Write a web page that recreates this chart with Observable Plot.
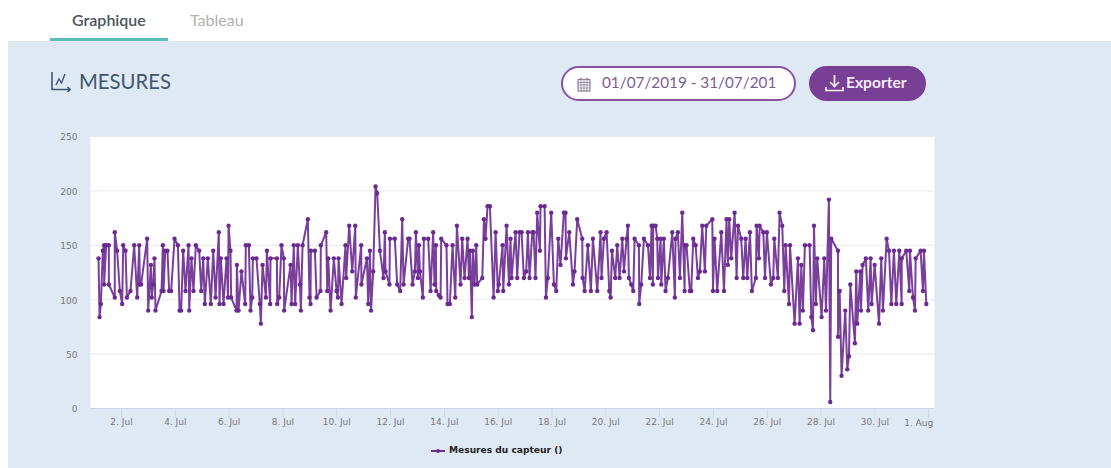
<!DOCTYPE html>
<html lang="fr">
<head>
<meta charset="utf-8">
<script src="https://cdn.jsdelivr.net/npm/d3@7"></script>
<script src="https://cdn.jsdelivr.net/npm/@observablehq/plot@0.6"></script>
<style>
html,body{margin:0;padding:0;background:#fff;width:1111px;height:468px;overflow:hidden;font-family:Lato,"Open Sans",sans-serif}
.abs{position:absolute;white-space:nowrap}
#panel{left:8px;top:41px;width:1103px;height:427px;background:#dfe9f4}
#tab1{left:72px;top:10px;font-size:16px;font-weight:600;color:#4a5560}
#tab2{left:190px;top:10px;font-size:16px;color:#b0b0b0}
#bar{left:50px;top:38px;width:118px;height:3px;background:#5cbdb6}
#title{left:79px;top:69px;font-size:20.3px;color:#41566e}
#pill{left:561px;top:66px;width:231px;height:31px;border:2px solid #8a52a3;border-radius:18px;background:#fff}
#range{left:602px;top:73px;font-size:15.3px;color:#7e5a95}
#btn{left:809px;top:66px;width:117px;height:35px;border-radius:18px;background:#793e95}
#exp{left:846px;top:73px;font-size:15.6px;font-weight:700;color:#f3edf6}
#chart{left:0;top:119.5px}
#swatch{left:431px;top:450px;width:14px;height:1.6px;background:#6b2d8e}
#dot{left:436px;top:449px;width:4px;height:4px;border-radius:50%;background:#6b2d8e}
#legend{left:449px;top:444px;font:bold 9.1px "DejaVu Sans",sans-serif;color:#222;line-height:13px}
</style>
</head>
<body>
<div class="abs" id="panel"></div>
<div class="abs" id="tab1">Graphique</div>
<div class="abs" id="tab2">Tableau</div>
<div class="abs" id="bar"></div>
<svg class="abs" style="left:50px;top:71px" width="21" height="21" viewBox="0 0 21 21" fill="none" stroke="#41566e" stroke-width="1.6">
  <path d="M2 1V18.5H20M17.5 16L20 18.5L17.5 21"/>
  <path d="M6 14L9 8L11.5 12L15 3" stroke-width="1.4"/>
</svg>
<div class="abs" id="title">MESURES</div>
<div class="abs" id="pill"></div>
<svg class="abs" style="left:577px;top:77px" width="14" height="15" viewBox="0 0 14 15" fill="none" stroke="#8b7a9a" stroke-width="1.2">
  <rect x="1" y="2.5" width="12" height="11.5"/>
  <path d="M1 5.5H13M1 8H13M1 11H13M4 3V14M7 3V14M10 3V14" stroke-width=".8"/>
  <path d="M4 .5V3M10 .5V3"/>
</svg>
<div class="abs" id="range">01/07/2019 - 31/07/201</div>
<div class="abs" id="btn"></div>
<svg class="abs" style="left:825px;top:74px" width="19" height="18" viewBox="0 0 19 18" fill="none" stroke="#f3edf6" stroke-width="1.7">
  <path d="M9.5 1V12M5 8L9.5 12.5L14 8M1 13V16.5H18V13"/>
</svg>
<div class="abs" id="exp">Exporter</div>
<div class="abs" id="chart"></div>
<div class="abs" id="swatch"></div>
<div class="abs" id="dot"></div>
<div class="abs" id="legend">Mesures du capteur ()</div>
<script>
// Hours since 1 July 2019 00:00, and the sensor reading at that time.
const hoursA = [3.5,4.4,5.6,7.3,8.5,8.5,10.3,12.7,12.7,18,
  18,20.1,22.5,24.6,25.5,27.6,28.8,32,35.3,38,
  39.8,40.4,41.5,46.9,47.8,50.2,51,52.2,53.4,54.3,
  59.7,60.9,61.5,63,65,66.5,68.3,71.3,74.3,75.8,
  77.2,79,81.1,83.8,84.4,86.4,88.2,90.3,93.3,95.1,
  96.9,98.3,101,103.7,105.8,107.9,110.8,111.4,112.6,115,
  117.7,119,119.5];
const valuesA = [138,84,96,145,150,114,150,150,114,102,
  162,145,108,96,150,145,102,108,150,102,
  150,114,114,156,90,132,102,114,138,90,
  108,150,108,145,145,108,108,156,150,90,
  90,145,108,150,90,138,108,150,145,108,
  138,96,138,96,145,102,162,96,138,96,
  138,102,168];
const hoursB = [121.2,121.8,126.6,126.9,128.4,131,134.3,134.9,137.6,139.1,
  140.6,141.2,144.4,147.4,148.3,149.8,152.8,153.7,156.6,156.9,
  162.6,162.9,164.7,166.7,168.8,169.1,174.8,175.7,177.7,178.9,
  181.3,183.1,184,185.5,190.2,191.7,192.6,192.9,196.5,198,
  201.5,201.8,206.6,207.5,208.4,210.5,213.4,215.8,217,217.6,
  220.3,223.8,224.4,227.1,229.8,232.5,233,237.8,238,242.9,
  244.1,245.6,246.6];
const valuesB = [145,102,90,132,90,126,96,150,150,90,
  102,138,138,96,78,132,102,145,96,138,
  138,96,102,150,138,90,132,96,150,96,
  150,114,90,150,174,102,96,145,145,102,
  108,150,162,108,138,90,138,108,102,138,
  96,150,120,168,126,168,102,150,114,138,
  96,145,90];
const hoursC = [248.5,250.6,252.1,254.5,257.7,258.9,259.5,263,263.4,267.8,
  269.9,272.6,274.4,275.6,279.7,280.9,283.6,285.7,286.6,288.4,
  289.3,290.2,292.8,293.7,297.6,299.7,302,303.2,304.4,304.7,
  307.1,308.6,309.2,313.9,314.8,316.9,319.3,321.7,323.2,326.4,
  327.9,330,332.7,333.9,334.8,336.5,337.4,338.9,340.4,341.3,
  345.8,347.3,348.7,350.5,352.6,355.9,357.7,359.7,360.6,363.9,
  364.5,367.5,369.6,371];
const valuesC = [126,204,198,145,120,162,126,114,156,156,
  114,108,174,114,156,156,114,126,162,120,
  150,126,102,156,156,108,162,114,150,108,
  104,102,156,150,96,96,150,102,168,114,
  156,120,156,120,145,84,145,114,150,114,
  120,174,156,186,186,102,162,108,114,150,
  108,168,114,156];
const hoursD = [371.9,375.5,377,379,380.9,382.9,385,386.5,388,390.4,
  391.6,393.3,394.8,397.2,397.8,401.4,402.6,404.3,407.3,409.7,
  411.8,413.6,415.6,418.6,420.1,420.4,423.4,426.7,428.1,430.5,
  435,435.3,437.1,440,442.7,444.5,448.4,451.3,452.2,454.3,
  456.7,459.1,460.3,461.5,464.4,466.2,468.3,470.7,472.2,474.5,
  475.7,476.6,478.7,480.5,481.7,485.5,485.8,487.6,490,493.6,
  495.4];
const valuesD = [120,162,120,162,162,120,126,162,120,162,
  162,120,180,145,186,186,102,120,180,114,
  108,156,132,180,180,138,162,114,126,174,
  156,120,108,150,108,156,108,162,120,156,
  162,108,102,145,120,150,120,156,126,156,
  168,120,114,108,156,150,96,114,156,150,
  120];
const hoursE = [496.8,498,498.3,500.4,501.9,502.5,504.9,505.5,507.8,509.3,
  511.4,515.3,517.6,518.2,520.3,522.1,524.2,526.3,526.5,528,
  531,532.2,534,536.1,538.2,539.9,542,544.4,545.6,551,
  551.6,553,555.4,559,561.4,563.7,564.9,566.1,567.9,570.9,
  572.7,573.9,576.8,578.6,580.7,582.2,584.6,586.3,589.9,590.5,
  592.6,593.2,596.5,598,599.7,603.3,605.4,606.3,609.5,611,
  613.4,615.2,616.4,619.4,620.3];
const valuesE = [168,114,168,168,156,120,156,114,156,108,
  120,162,102,156,162,120,180,108,150,150,
  108,108,156,150,120,126,168,126,168,174,
  108,156,108,162,108,174,132,174,138,180,
  120,168,156,120,156,120,162,108,120,168,
  138,168,162,120,162,114,120,156,120,180,
  168,108,150,96,150];
const hoursF = [624.4,627.4,628.9,630.4,631.8,633.6,637.8,639.3,640.8,641.7,
  643.4,644.6,648.5,650.9,652.4,655,656.2,657.1,663.1,663.2,
  664.6,666.3,669.6,671.4,672.9,674.1,678.2,679.4,680.3,683,
  683.6,685.1,688,690.1,692.2,693.1,695.8,699.7,701.7,703.2,
  706.5,708.6,710.7,713,715.1,717.8,719.9,720,724,726.7,
  727.3,730,731.8,732.4,736.8,738.9,739.8,741.9];
const valuesF = [78,138,78,132,90,150,150,84,72,168,
  96,138,84,138,90,192,6,156,145,66,
  108,30,90,36,48,114,60,126,78,126,
  90,132,138,90,138,96,132,78,138,90,
  156,145,96,145,96,145,96,138,145,108,
  145,102,90,138,145,108,145,96];
const yTicks = [0,50,100,150,200,250];
const tickDays = [2,4,6,8,10,12,14,16,18,20,22,24,26,28,30,32];
const startHour = -3.66, endHour = 749.2;

const hours = [...hoursA,...hoursB,...hoursC,...hoursD,...hoursE,...hoursF];
const values = [...valuesA,...valuesB,...valuesC,...valuesD,...valuesE,...valuesF];
const t0 = Date.UTC(2019,6,1);
const toDate = h => new Date(t0 + h*3600e3);
const rows = hours.map((h,i) => ({t: toDate(h), v: values[i]}));
const ticks = tickDays.map(d => new Date(Date.UTC(2019,6,d)));
const lastTick = ticks[ticks.length-1];
const fmt = d => d.getUTCMonth()===6 ? d.getUTCDate()+". Jul" : "";
const purple = "#6a2a90";

const chart = Plot.plot({
  width:1111, height:312,
  marginTop:16, marginBottom:24, marginLeft:90, marginRight:177,
  style:{background:"transparent",fontFamily:"'DejaVu Sans',sans-serif",fontSize:"9px",overflow:"visible"},
  x:{type:"utc",domain:[toDate(startHour),toDate(endHour)]},
  y:{domain:[0,250]},
  marks:[
    Plot.frame({fill:"#fff",stroke:"none"}),
    Plot.ruleY(yTicks.filter(v=>v>0),{stroke:"#e9e9e9",strokeWidth:1}),
    Plot.ruleY([0],{stroke:"#ccd6eb"}),
    Plot.axisY({ticks:yTicks,tickSize:0,tickPadding:13,label:null,color:"#777",fontSize:9,dy:1}),
    Plot.axisX({ticks,tickFormat:fmt,tickSize:10,tickPadding:0,label:null,stroke:"#ccd6eb",color:"#777",fill:"#777",fontSize:9}),
    Plot.text([lastTick],{x:d=>d,frameAnchor:"bottom",lineAnchor:"middle",dy:15,dx:-10,text:()=>"1. Aug",fill:"#777",fontSize:9}),
    Plot.line(rows,{x:"t",y:"v",stroke:purple,strokeWidth:2,strokeOpacity:.9,curve:"linear"}),
    Plot.dot(rows,{x:"t",y:"v",r:2.2,fill:purple,stroke:"none"})
  ]
});
document.getElementById("chart").appendChild(chart);
</script>
</body>
</html>
